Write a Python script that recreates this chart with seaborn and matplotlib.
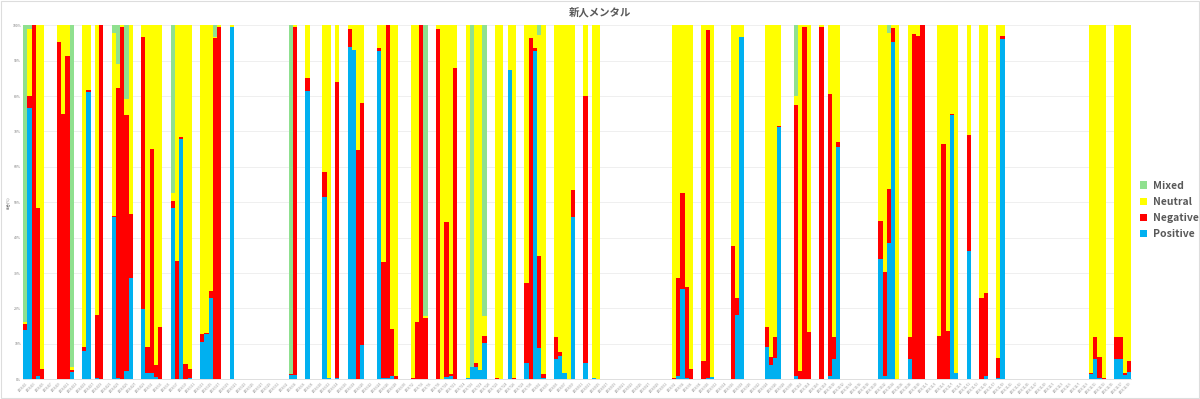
import numpy as np
import pandas as pd
import matplotlib
matplotlib.use("Agg")
import matplotlib.pyplot as plt
from matplotlib.patches import Patch, Rectangle
import seaborn as sns

# ---------------- data (percent shares per day) ----------------
n_days = 263
start_date = "2019-04-01"
bar_index = [0, 1, 2, 3, 4, 8, 9, 10, 11, 14, 15, 17, 18, 21, 22, 23, 24, 25,
             28, 29, 30, 31, 32, 35, 36, 37, 38, 39, 42, 43, 44, 45, 46, 49,
             63, 64, 67, 71, 72, 74, 77, 78, 79, 80, 84, 85, 86, 87, 88,
             92, 93, 94, 95, 98, 99, 100, 101, 102, 105, 106, 107, 108, 109,
             112, 113, 115, 116, 119, 120, 121, 122, 123, 126, 127, 128, 129, 130,
             133, 135, 136, 154, 155, 156, 157, 158, 161, 162, 163, 168, 169, 170,
             176, 177, 178, 179, 183, 184, 185, 186, 189, 191, 192, 193,
             203, 204, 205, 206, 207, 210, 211, 212, 213, 217, 218, 219, 220, 221,
             224, 227, 228, 231, 232, 253, 254, 255, 256, 259, 260, 261, 262]
positive = [14, 76.5, 0, 1, 0, 0, 0, 0, 2.2, 8, 81.2, 0.5, 0, 45.9, 0.5, 0, 2.3, 28.7,
            19.8, 1.7, 1.7, 0.7, 0.2, 48.5, 0, 67.8, 0, 0.4, 10.6, 12.8, 23, 0, 0, 99.5,
            1.2, 1.2, 81.5, 51.4, 0.3, 0.5, 93.8, 93, 0, 9.7, 92.6, 0.5, 0.5, 0.8, 0,
            0, 0.2, 0, 0, 0, 0, 0.6, 0.8, 0, 0.3, 3.4, 3.6, 2.6, 10.2,
            0, 0, 87.4, 0, 4.5, 0, 92.7, 8.8, 0.3, 5.7, 6.7, 1.9, 0, 45.8,
            4.5, 0.4, 0, 0, 1, 25.4, 0.3, 0, 0, 0.5, 0.6, 0, 18.2, 96.6,
            9.2, 4, 5.9, 71.4, 0.8, 0, 0, 0, 0, 0.8, 5.7, 65.7,
            33.9, 0.8, 38.4, 95.4, 0, 5.7, 0, 0, 0, 0, 0, 0, 74.7, 1.7,
            36.3, 0, 0.9, 0.5, 96.1, 1.4, 5.7, 0.3, 0, 5.7, 5.7, 1.2, 2.2]
negative = [1.5, 3.5, 100, 47.5, 3, 95.3, 74.9, 91.3, 0.5, 1.2, 0.5, 17.7, 100, 0.2, 81.8, 99.5, 72.3, 18.1,
            77, 7.5, 63.3, 3.2, 14.5, 1.9, 33.5, 0.7, 4.3, 2.6, 2.2, 0.2, 1.8, 96.3, 99.4, 0,
            0.3, 98.4, 3.5, 7.1, 0, 83.5, 5.1, 0, 64.8, 68.3, 0.9, 32.7, 99.5, 13.3, 0.8,
            0.3, 16, 100, 17.2, 98.9, 0, 43.7, 0.7, 87.9, 0, 0, 1.1, 0, 2.1,
            0.3, 0, 0, 0.3, 22.6, 96.3, 0.8, 26, 1.2, 6.2, 1.1, 0, 0, 7.7,
            75.5, 0, 0, 0.3, 27.7, 27.1, 25.9, 2.8, 5.2, 98.2, 0, 37.7, 4.9, 0,
            5.5, 2.2, 6, 0.2, 76.7, 2.4, 99.6, 13.5, 99.6, 79.8, 6.2, 1.3,
            10.8, 29.6, 15.3, 3.8, 0, 6.2, 97.6, 97.1, 100, 12.2, 66.5, 13.7, 0.2, 0,
            32.7, 23.1, 23.6, 5.6, 0.9, 0.3, 6.2, 5.9, 0.3, 6.2, 6.2, 0.5, 3]
neutral = [0.7, 19, 0, 51.5, 97, 4.7, 25.1, 8.7, 0.7, 90.8, 18.3, 81.8, 0, 51.7, 6.9, 0.5, 4.5, 53.2,
           3.2, 90.8, 35, 96.1, 85.3, 2.1, 66.5, 31.5, 95.7, 97, 87.2, 87, 75.2, 0.5, 0.6, 0.5,
           0, 0.4, 15, 41.5, 99.7, 16, 1.1, 7, 35.2, 22, 6.5, 66.8, 0, 85.9, 99.2,
           99.7, 83.8, 0, 0.7, 1.1, 100, 55.7, 98.5, 12.1, 99.7, 0, 95.3, 97.4, 5.7,
           99.7, 100, 12.6, 99.7, 72.9, 3.7, 6.5, 62.5, 98.5, 88.1, 92.2, 98.1, 100, 46.5,
           20, 99.6, 100, 99.7, 71.3, 47.5, 73.8, 97.2, 94.8, 1.3, 99.4, 62.3, 76.9, 3.4,
           85.3, 93.8, 88.1, 28.4, 2.5, 97.6, 0.4, 86.5, 0.4, 19.4, 88.1, 33,
           55.3, 69.6, 44, 0.8, 100, 88.1, 2.4, 2.9, 0, 87.8, 33.5, 86.3, 25.1, 98.3,
           31, 76.9, 75.5, 93.9, 3, 98.3, 88.1, 93.8, 99.7, 88.1, 88.1, 98.3, 94.8]
mixed = [83.8, 1, 0, 0, 0, 0, 0, 0, 96.6, 0, 0, 0, 0, 2.2, 10.8, 0, 20.9, 0,
         0, 0, 0, 0, 0, 47.5, 0, 0, 0, 0, 0, 0, 0, 3.2, 0, 0,
         98.5, 0, 0, 0, 0, 0, 0, 0, 0, 0, 0, 0, 0, 0, 0,
         0, 0, 0, 82.1, 0, 0, 0, 0, 0, 0, 96.6, 0, 0, 82,
         0, 0, 0, 0, 0, 0, 0, 2.7, 0, 0, 0, 0, 0, 0,
         0, 0, 0, 0, 0, 0, 0, 0, 0, 0, 0, 0, 0, 0,
         0, 0, 0, 0, 20, 0, 0, 0, 0, 0, 0, 0,
         0, 0, 2.3, 0, 0, 0, 0, 0, 0, 0, 0, 0, 0, 0,
         0, 0, 0, 0, 0, 0, 0, 0, 0, 0, 0, 0, 0]

series_names = ["Positive", "Negative", "Neutral", "Mixed"]
series_colors = {"Positive": "#00b0f0", "Negative": "#ff0000",
                 "Neutral": "#ffff00", "Mixed": "#8fe08f"}

# ---------------- build full table ----------------
dates = pd.date_range(start_date, periods=n_days, freq="D")
date_labels = [f"{d.year}/{d.month}/{d.day}" for d in dates]

full = pd.DataFrame(0.0, index=range(n_days), columns=series_names)
part = pd.DataFrame({"Positive": positive, "Negative": negative,
                     "Neutral": neutral, "Mixed": mixed}, index=bar_index)
part = part.div(part.sum(axis=1), axis=0) * 100  # 100% stacked
full.loc[part.index, :] = part.values
cum = full.cumsum(axis=1)
cum["day"] = range(n_days)

# ---------------- plot ----------------
sns.set_theme(style="white")
plt.rcParams["font.family"] = ["Noto Sans CJK JP", "DejaVu Sans"]

fig = plt.figure(figsize=(12, 3.99), dpi=100)
ax = fig.add_axes([0.0194, 0.0494, 0.9231, 0.8872])

for name in reversed(series_names):
    sns.barplot(data=cum, x="day", y=name, color=series_colors[name],
                width=1.0, saturation=1, linewidth=0, errorbar=None, ax=ax)

ax.set_xlim(-0.5, n_days - 0.5)
ax.set_ylim(0, 100)
ax.set_yticks(np.arange(0, 101, 10))
ax.set_yticklabels([f"{v}%" for v in range(0, 101, 10)], fontsize=2.5, color="#777777")
ticks = list(range(0, n_days, 2))
ax.set_xticks(ticks)
ax.set_xticklabels([date_labels[i] for i in ticks], rotation=45, ha="right",
                   rotation_mode="anchor", fontsize=2, color="#888888")
ax.tick_params(axis="both", length=0, pad=1.5)
ax.set_xlabel("")
ax.set_ylabel("割合(%)", fontsize=2.5, color="#777777", labelpad=2)
ax.yaxis.grid(True, color="#ececec", linewidth=0.6)
ax.set_axisbelow(True)
for s in ["top", "right", "left"]:
    ax.spines[s].set_visible(False)
ax.spines["bottom"].set_color("#d9d9d9")
ax.spines["bottom"].set_linewidth(0.6)

fig.text(0.5, 1 - 12 / 399, "新人メンタル", ha="center", va="center",
         fontsize=7.5, fontweight="bold", color="#595959")

handles = [Patch(facecolor=series_colors[n], edgecolor="none", label=n)
           for n in reversed(series_names)]
leg = fig.legend(handles=handles, loc="center left",
                 bbox_to_anchor=(1136 / 1200, 1 - 210 / 399), frameon=False,
                 fontsize=7.5, handlelength=0.7, handleheight=0.7,
                 handletextpad=0.5, labelspacing=0.6, borderaxespad=0)
for t in leg.get_texts():
    t.set_color("#595959")
    t.set_fontweight("semibold")

fig.patches.append(Rectangle((0.001, 0.002), 0.998, 0.996, transform=fig.transFigure,
                             fill=False, edgecolor="#dddddd", linewidth=0.8))

fig.savefig("out.png", dpi=100, facecolor="white")
